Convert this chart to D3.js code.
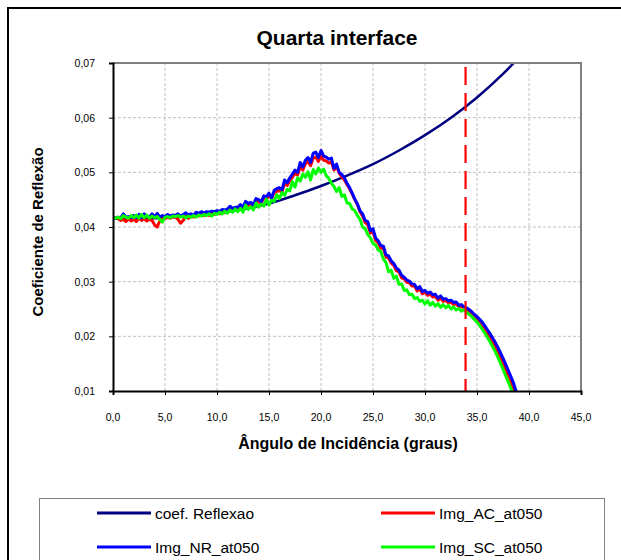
<!DOCTYPE html>
<html><head><meta charset="utf-8">
<script src="https://cdn.jsdelivr.net/npm/d3@7"></script>
<style>
body{margin:0;background:#fff}
svg{display:block}
text{font-family:"Liberation Sans",Arial,sans-serif;fill:#000}
</style>
</head><body>
<svg id="chart" width="621" height="560"></svg>
<script>
const chartTitle = "Quarta interface";
const xTitle = "Ângulo de Incidência (graus)";
const yTitle = "Coeficiente de Reflexão";
const xTicks = [0,5,10,15,20,25,30,35,40,45];
const yTicks = [0.01,0.02,0.03,0.04,0.05,0.06,0.07];
const criticalAngle = 33.9;

// sampled angles for the measured series (0 to 39 degrees, 0.25 deg step)
const angles = d3.range(0, 39.0001, 0.25);

const imgNR = [
0.0417,0.0416,0.0418,0.0417,0.0424,0.0418,0.0419,0.0417,
0.0421,0.0418,0.0423,0.0417,0.0424,0.0419,0.0418,0.0424,
0.0419,0.0425,0.0418,0.0421,0.0419,0.0423,0.0420,0.0422,
0.0421,0.0424,0.0420,0.0423,0.0426,0.0422,0.0424,0.0421,
0.0427,0.0425,0.0428,0.0426,0.0428,0.0427,0.0429,0.0428,
0.0430,0.0429,0.0432,0.0431,0.0433,0.0438,0.0434,0.0436,
0.0436,0.0441,0.0436,0.0447,0.0443,0.0445,0.0440,0.0452,
0.0450,0.0446,0.0457,0.0455,0.0462,0.0453,0.0467,0.0470,
0.0472,0.0468,0.0486,0.0481,0.0490,0.0497,0.0504,0.0500,
0.0518,0.0510,0.0522,0.0527,0.0518,0.0535,0.0537,0.0527,
0.0540,0.0530,0.0528,0.0524,0.0526,0.0507,0.0515,0.0500,
0.0496,0.0490,0.0480,0.0472,0.0462,0.0451,0.0442,0.0430,
0.0424,0.0412,0.0410,0.0393,0.0397,0.0380,0.0375,0.0366,
0.0365,0.0349,0.0347,0.0338,0.0333,0.0325,0.0321,0.0312,
0.0308,0.0303,0.0301,0.0296,0.0295,0.0287,0.0291,0.0282,
0.0284,0.0279,0.0281,0.0276,0.0277,0.0270,0.0274,0.0268,
0.0269,0.0265,0.0266,0.0262,0.0263,0.0257,0.0258,0.0254,
0.0252,0.0249,0.0245,0.0240,0.0236,0.0231,0.0226,0.0219,
0.0212,0.0205,0.0197,0.0189,0.0180,0.0170,0.0160,0.0149,
0.0138,0.0127,0.0115,0.0100,0.0085];

const imgAC = [
0.0417,0.0416,0.0415,0.0412,0.0414,0.0410,0.0415,0.0411,
0.0414,0.0410,0.0416,0.0412,0.0415,0.0411,0.0414,0.0412,
0.0404,0.0400,0.0411,0.0416,0.0415,0.0418,0.0416,0.0419,
0.0418,0.0414,0.0407,0.0412,0.0419,0.0416,0.0420,0.0418,
0.0422,0.0420,0.0423,0.0421,0.0424,0.0421,0.0425,0.0423,
0.0426,0.0424,0.0428,0.0426,0.0429,0.0433,0.0430,0.0435,
0.0432,0.0438,0.0434,0.0443,0.0439,0.0441,0.0437,0.0449,
0.0446,0.0443,0.0454,0.0451,0.0458,0.0452,0.0463,0.0465,
0.0467,0.0464,0.0480,0.0476,0.0485,0.0491,0.0498,0.0495,
0.0511,0.0504,0.0516,0.0520,0.0512,0.0526,0.0528,0.0520,
0.0530,0.0522,0.0521,0.0517,0.0519,0.0504,0.0511,0.0498,
0.0492,0.0486,0.0478,0.0470,0.0460,0.0450,0.0441,0.0428,
0.0420,0.0408,0.0404,0.0389,0.0392,0.0375,0.0371,0.0361,
0.0361,0.0345,0.0343,0.0334,0.0330,0.0320,0.0318,0.0307,
0.0305,0.0299,0.0298,0.0292,0.0292,0.0283,0.0287,0.0278,
0.0281,0.0275,0.0277,0.0272,0.0273,0.0266,0.0270,0.0264,
0.0266,0.0261,0.0263,0.0258,0.0259,0.0254,0.0255,0.0251,
0.0248,0.0244,0.0240,0.0235,0.0231,0.0225,0.0219,0.0212,
0.0205,0.0197,0.0189,0.0181,0.0171,0.0161,0.0151,0.0140,
0.0129,0.0118,0.0106,0.0094,0.0080];

const imgSC = [
0.0417,0.0416,0.0418,0.0415,0.0421,0.0418,0.0416,0.0421,
0.0417,0.0422,0.0416,0.0423,0.0417,0.0422,0.0416,0.0420,
0.0417,0.0419,0.0414,0.0409,0.0418,0.0419,0.0417,0.0420,
0.0419,0.0421,0.0418,0.0420,0.0417,0.0420,0.0418,0.0421,
0.0418,0.0422,0.0420,0.0423,0.0421,0.0424,0.0420,0.0425,
0.0423,0.0427,0.0424,0.0429,0.0425,0.0431,0.0427,0.0433,
0.0428,0.0434,0.0427,0.0440,0.0432,0.0437,0.0431,0.0444,
0.0436,0.0442,0.0438,0.0451,0.0440,0.0449,0.0447,0.0459,
0.0452,0.0463,0.0458,0.0469,0.0466,0.0483,0.0473,0.0490,
0.0484,0.0497,0.0491,0.0501,0.0486,0.0505,0.0497,0.0508,
0.0500,0.0506,0.0494,0.0489,0.0480,0.0474,0.0465,0.0472,
0.0456,0.0459,0.0444,0.0443,0.0433,0.0430,0.0421,0.0414,
0.0400,0.0397,0.0386,0.0380,0.0370,0.0367,0.0358,0.0355,
0.0341,0.0335,0.0318,0.0321,0.0306,0.0310,0.0295,0.0296,
0.0284,0.0285,0.0276,0.0277,0.0269,0.0271,0.0264,0.0266,
0.0259,0.0265,0.0257,0.0262,0.0255,0.0260,0.0253,0.0258,
0.0252,0.0257,0.0250,0.0254,0.0248,0.0251,0.0246,0.0249,
0.0244,0.0240,0.0236,0.0231,0.0226,0.0220,0.0213,0.0206,
0.0198,0.0190,0.0181,0.0172,0.0162,0.0151,0.0140,0.0128,
0.0117,0.0105,0.0093,0.0080,0.0068];

const coefAngles = [0,2.5,5,7.5,10,12.5,15,17.5,20,22.5,25,27.5,30,32.5,35,37.5,40];
const coefReflexao = [0.0415,0.04155,0.0417,0.0421,0.0426,0.0433,0.0443,0.0458,0.0475,0.0494,0.0515,0.0540,0.0568,0.0600,0.0637,0.0680,0.0730];

const seriesNames = ["coef. Reflexao","Img_AC_at050","Img_NR_at050","Img_SC_at050"];
const seriesColors = ["#000080","#FF0000","#0000FF","#00FF00"];

const svg = d3.select("#chart");
const plot = {left:113, right:581, top:63, bottom:391};

// outer chart frame (extends past the window)
svg.append("rect").attr("x",8).attr("y",8).attr("width",660).attr("height",600)
  .attr("fill","#fff").attr("stroke","#000").attr("stroke-width",2);

const x = d3.scaleLinear().domain([0,45]).range([plot.left, plot.right]);
const y = d3.scaleLinear().domain([0.01,0.07]).range([plot.bottom, plot.top]);

const comma = f => v => d3.format(f)(v).replace(".", ",");

// grid
const grid = svg.append("g");
grid.selectAll(".gx").data(xTicks.slice(1,-1)).join("line")
  .attr("x1",d=>x(d)).attr("x2",d=>x(d)).attr("y1",plot.top).attr("y2",plot.bottom)
  .attr("stroke","#c0c0c0").attr("stroke-width",1).attr("stroke-dasharray","3,2");
grid.selectAll(".gy").data(yTicks.slice(1,-1)).join("line")
  .attr("x1",plot.left).attr("x2",plot.right).attr("y1",d=>y(d)).attr("y2",d=>y(d))
  .attr("stroke","#c0c0c0").attr("stroke-width",1).attr("stroke-dasharray","3,2");

// clip
svg.append("clipPath").attr("id","clip").append("rect")
  .attr("x",plot.left).attr("y",plot.top).attr("width",plot.right-plot.left).attr("height",plot.bottom-plot.top);

const gLines = svg.append("g").attr("clip-path","url(#clip)");

const coefLine = d3.line().x((d,i)=>x(coefAngles[i])).y(d=>y(d)).curve(d3.curveMonotoneX);
gLines.append("path").datum(coefReflexao).attr("d",coefLine)
  .attr("fill","none").attr("stroke",seriesColors[0]).attr("stroke-width",2.5);

const measLine = d3.line().x((d,i)=>x(angles[i])).y(d=>y(d));
[[imgAC,1],[imgNR,2],[imgSC,3]].forEach(([arr,k])=>{
  gLines.append("path").datum(arr).attr("d",measLine)
    .attr("fill","none").attr("stroke",seriesColors[k]).attr("stroke-width",3)
    .attr("stroke-linejoin","round");
});

// critical angle dashed line
gLines.append("line").attr("x1",x(criticalAngle)).attr("x2",x(criticalAngle))
  .attr("y1",plot.top+4).attr("y2",plot.bottom)
  .attr("stroke","#FF0000").attr("stroke-width",2.2).attr("stroke-dasharray","18,8");

// plot border: top/right gray
svg.append("path").attr("d",`M${plot.left},${plot.top}H${plot.right}V${plot.bottom}`)
  .attr("fill","none").attr("stroke","#808080").attr("stroke-width",2);

// axes
const xAxis = d3.axisBottom(x).tickValues(xTicks).tickSize(4).tickFormat(()=>"");
const gx = svg.append("g").attr("transform",`translate(0,${plot.bottom})`).call(xAxis);
gx.select(".domain").attr("stroke","#000").attr("stroke-width",2);
gx.selectAll(".tick line").attr("stroke","#000");
svg.append("g").selectAll("text").data(xTicks).join("text")
  .attr("x",d=>x(d)).attr("y",421).attr("text-anchor","middle")
  .attr("font-size","10.5px").text(comma(".1f"));

const yAxis = d3.axisLeft(y).tickValues(yTicks).tickSize(4).tickFormat(()=>"");
const gy = svg.append("g").attr("transform",`translate(${plot.left},0)`).call(yAxis);
gy.select(".domain").attr("stroke","#000").attr("stroke-width",2);
gy.selectAll(".tick line").attr("stroke","#000");
svg.append("g").selectAll("text").data(yTicks).join("text")
  .attr("x",95).attr("y",d=>y(d)+4).attr("text-anchor","end")
  .attr("font-size","10.5px").text(comma(".2f"));

// titles
svg.append("text").attr("x",337).attr("y",45).attr("text-anchor","middle")
  .attr("font-size","21px").attr("font-weight","bold").text(chartTitle);
svg.append("text").attr("x",348).attr("y",449).attr("text-anchor","middle")
  .attr("font-size","16px").attr("font-weight","bold").text(xTitle);
svg.append("text").attr("transform",`translate(43,232) rotate(-90)`)
  .attr("text-anchor","middle").attr("font-size","15px").attr("font-weight","bold").text(yTitle);

// legend
svg.append("rect").attr("x",39.5).attr("y",498.5).attr("width",565).attr("height",100)
  .attr("fill","#fff").attr("stroke","#808080").attr("stroke-width",1);
const legendPos = [[97,513],[381,513],[97,547],[381,547]];
seriesNames.forEach((name,i)=>{
  const [lx,ly] = legendPos[i];
  svg.append("line").attr("x1",lx).attr("x2",lx+54).attr("y1",ly).attr("y2",ly)
    .attr("stroke",seriesColors[i]).attr("stroke-width",3);
  svg.append("text").attr("x",lx+58).attr("y",ly+6).attr("font-size","15.5px").text(name);
});
</script>
</body></html>
